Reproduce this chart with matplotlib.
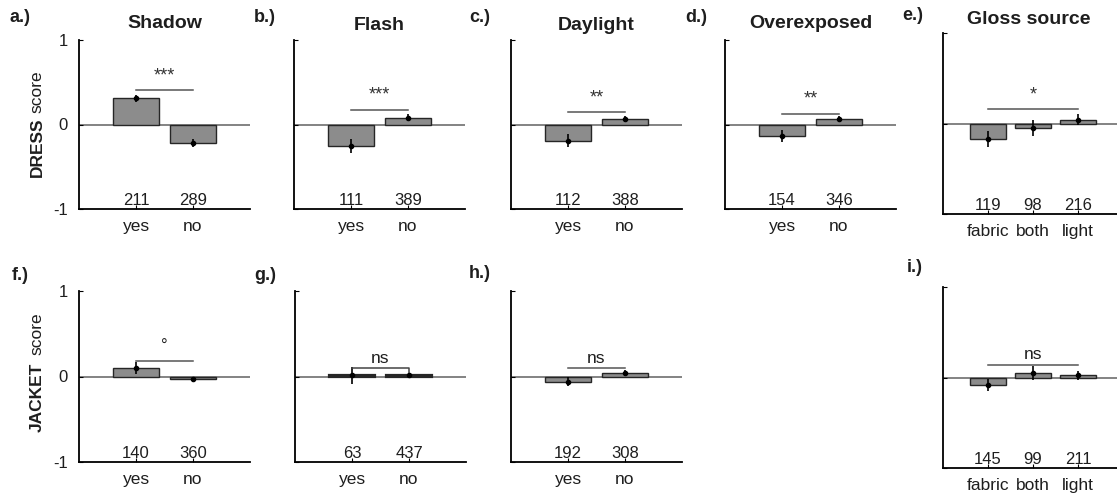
import matplotlib
matplotlib.use("Agg")
import matplotlib.pyplot as plt

plt.rcParams['font.family'] = ['Liberation Sans', 'DejaVu Sans']

W, H = 1117, 495

# ---------------- data ----------------
yes_no = ["yes", "no"]
gloss_cats = ["fabric", "both", "light"]

dress_titles = ["Shadow", "Flash", "Daylight", "Overexposed", "Gloss source"]
dress_letters = ["a.)", "b.)", "c.)", "d.)", "e.)"]
dress_means = [[0.31, -0.22], [-0.26, 0.08], [-0.19, 0.06], [-0.14, 0.07], [-0.17, -0.05, 0.04]]
dress_errs = [[0.045, 0.05], [0.083, 0.04], [0.08, 0.035], [0.073, 0.03], [0.09, 0.09, 0.06]]
dress_counts = [[211, 289], [111, 389], [112, 388], [154, 346], [119, 98, 216]]
dress_sig = ["***", "***", "**", "**", "*"]
dress_sig_y = [0.41, 0.175, 0.145, 0.127, 0.155]
dress_sig_text_y = [0.58, 0.345, 0.31, 0.30, 0.31]

jacket_letters = ["f.)", "g.)", "h.)", "i.)"]
jacket_means = [[0.10, -0.035], [0.012, 0.012], [-0.06, 0.045], [-0.08, 0.05, 0.025]]
jacket_errs = [[0.074, 0.035], [0.097, 0.015], [0.05, 0.03], [0.065, 0.08, 0.05]]
jacket_counts = [[140, 360], [63, 437], [192, 308], [145, 99, 211]]
jacket_sig = ["°", "ns", "ns", "ns"]
jacket_sig_y = [0.18, 0.10, 0.105, 0.14]
jacket_sig_text_y = [0.35, 0.21, 0.21, 0.25]

# ---------------- layout (pixels) ----------------
fig = plt.figure(figsize=(W / 100, H / 100), dpi=100)

BAR_COLOR = "#8c8c8c"
EDGE_COLOR = "#262626"
TEXT_COLOR = "#1e1e1e"


def add_ax(left, top, width, bottom):
    return fig.add_axes([left / W, 1 - bottom / H, width / W, (bottom - top) / H])


def draw_panel(ax, cats, means, errs, counts, sig, sig_y, sig_text_y, show_yticks, bracket=False,
               edge_lw=1.0):
    n = len(cats)
    xs = list(range(1, n + 1))
    ax.set_xlim(0, n + 1)
    ax.set_ylim(-1, 1)
    ax.axhline(0, color="#7a7a7a", lw=1.3, zorder=1)
    ax.bar(xs, means, width=0.8, color=BAR_COLOR, edgecolor=EDGE_COLOR, linewidth=edge_lw, zorder=2)
    ax.errorbar(xs, means, yerr=errs, fmt="o", color="black", ms=3, lw=1.2, capsize=0, zorder=3)
    for x, c in zip(xs, counts):
        ax.text(x, -0.955, str(c), ha="center", va="baseline", fontsize=12, color=TEXT_COLOR)
    x0, x1 = xs[0], xs[-1]
    if bracket:
        ax.plot([x0, x1, x1], [sig_y, sig_y, 0.02], color="#444444", lw=1.1, zorder=3)
    else:
        ax.plot([x0, x1], [sig_y, sig_y], color="#555555", lw=1.1, zorder=3)
    if sig == "ns":
        ax.text((x0 + x1) / 2, sig_text_y, sig, ha="center", va="center", fontsize=12.5, color=TEXT_COLOR)
    elif sig == "°":
        ax.text((x0 + x1) / 2, sig_text_y, sig, ha="center", va="center", fontsize=12, color=TEXT_COLOR)
    else:
        ax.text((x0 + x1) / 2, sig_text_y, sig, ha="center", va="center", fontsize=13, color="#333333")
    for s in ("top", "right"):
        ax.spines[s].set_visible(False)
    ax.spines["left"].set_linewidth(1.3)
    ax.spines["bottom"].set_linewidth(1.3)
    ax.set_xticks(xs)
    ax.set_xticklabels(cats, fontsize=12.5, color=TEXT_COLOR)
    ax.tick_params(axis="x", direction="in", length=3, pad=7, width=0.8)
    ax.set_yticks([-1, 0, 1])
    if show_yticks:
        ax.set_yticklabels(["-1", "0", "1"], fontsize=12, color=TEXT_COLOR)
        ax.tick_params(axis="y", direction="in", length=3, pad=8, width=0.8)
    else:
        ax.set_yticklabels([])
        ax.tick_params(axis="y", direction="in", length=3, width=0.8)


# row 1: DRESS
row1_lefts = [79, 294, 511, 725, 943]
row1_title_y = [24, 25, 25, 23, 19]
letter1_x = [10, 254, 469, 685, 902]
letter1_y = [18, 17, 17, 17, 16]
for i in range(5):
    cats = gloss_cats if i == 4 else yes_no
    if i == 4:
        ax = add_ax(row1_lefts[i], 33, 180, 214)
    else:
        ax = add_ax(row1_lefts[i], 40, 171, 209)
    draw_panel(ax, cats, dress_means[i], dress_errs[i], dress_counts[i],
               dress_sig[i], dress_sig_y[i], dress_sig_text_y[i], show_yticks=(i == 0))
    width = 180 if i == 4 else 171
    fig.text((row1_lefts[i] + width / 2 - (4 if i == 4 else 0)) / W, 1 - row1_title_y[i] / H,
             dress_titles[i], ha="center", va="center", fontsize=14, fontweight="bold", color=TEXT_COLOR)
    fig.text(letter1_x[i] / W, 1 - letter1_y[i] / H, dress_letters[i], ha="left", va="center",
             fontsize=13, fontweight="bold", color=TEXT_COLOR)

# row 2: JACKET
row2_lefts = [79, 295, 511, 943]
letter2_x = [12, 254, 469, 907]
letter2_y = [275, 275, 273, 268]
for i in range(4):
    cats = gloss_cats if i == 3 else yes_no
    if i == 3:
        ax = add_ax(row2_lefts[i], 287, 180, 468)
    else:
        ax = add_ax(row2_lefts[i], 291, 171, 462)
    draw_panel(ax, cats, jacket_means[i], jacket_errs[i], jacket_counts[i],
               jacket_sig[i], jacket_sig_y[i], jacket_sig_text_y[i], show_yticks=(i == 0),
               bracket=(i == 1), edge_lw=(1.6 if i == 1 else 1.0))
    fig.text(letter2_x[i] / W, 1 - letter2_y[i] / H, jacket_letters[i], ha="left", va="center",
             fontsize=13, fontweight="bold", color=TEXT_COLOR)

# y labels (bold word + normal word)
fig.text(37 / W, 1 - 147.5 / H, "DRESS", rotation=90, ha="center", va="center",
         fontsize=12.5, fontweight="bold", color=TEXT_COLOR)
fig.text(37 / W, 1 - 92 / H, "score", rotation=90, ha="center", va="center",
         fontsize=12.5, color=TEXT_COLOR)
fig.text(37 / W, 1 - 397 / H, "JACKET", rotation=90, ha="center", va="center",
         fontsize=12.5, fontweight="bold", color=TEXT_COLOR)
fig.text(37 / W, 1 - 334 / H, "score", rotation=90, ha="center", va="center",
         fontsize=12.5, color=TEXT_COLOR)

fig.savefig("out.png", dpi=100)
